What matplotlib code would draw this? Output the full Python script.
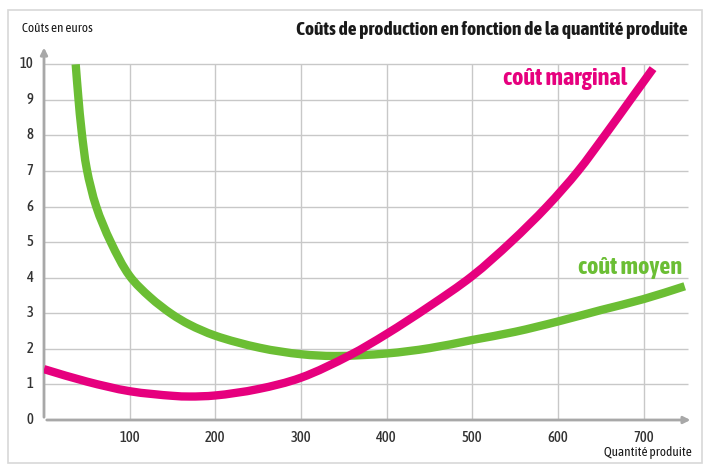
import matplotlib
matplotlib.use("Agg")
import numpy as np
import matplotlib.pyplot as plt
from matplotlib.patches import Rectangle, PathPatch
from matplotlib.path import Path

plt.rcParams["font.family"] = ["Asap Condensed", "Noto Sans", "DejaVu Sans"]

# quantities and costs
x_marginal = [0, 50, 100, 150, 170, 200, 250, 300, 357, 400, 450, 500, 545, 587, 623.5, 654.6, 684.6, 711]
y_marginal = [1.43, 1.08, 0.81, 0.68, 0.66, 0.69, 0.87, 1.19, 1.82, 2.42, 3.2, 4.05, 5.0, 6.0, 7.0, 8.0, 9.0, 9.88]

x_moyen = [37, 40, 44, 50, 61, 78, 100, 124, 149, 170, 200, 252, 300, 340, 400, 450, 500, 550, 600, 650, 700, 748]
y_moyen = [10, 9.1, 8.1, 7.05, 6, 5, 4.05, 3.45, 2.98, 2.68, 2.37, 2.03, 1.85, 1.80, 1.87, 2.02, 2.25, 2.48, 2.77, 3.09, 3.40, 3.76]

x_ticks = [100, 200, 300, 400, 500, 600, 700]
y_ticks = [0, 1, 2, 3, 4, 5, 6, 7, 8, 9, 10]

title = "Coûts de production en fonction de la quantité produite"
ylabel = "Coûts en euros"
xlabel = "Quantité produite"

magenta = "#E6007E"
green = "#6BBE34"
grid_col = "#c8c8c8"
axis_col = "#a8a8a8"


def smooth_path(xs, ys):
    # centripetal catmull-rom through the points (spacing measured on screen), as bezier segments
    scale = np.array([651 / 760, 377 / 10.6])
    q = np.column_stack([xs, ys]).astype(float) * scale
    q = np.vstack([2 * q[0] - q[1], q, 2 * q[-1] - q[-2]])
    t = np.concatenate([[0], np.cumsum(np.linalg.norm(np.diff(q, axis=0), axis=1) ** 0.5)])

    def tangent(j):
        return ((q[j] - q[j - 1]) / (t[j] - t[j - 1])
                - (q[j + 1] - q[j - 1]) / (t[j + 1] - t[j - 1])
                + (q[j + 1] - q[j]) / (t[j + 1] - t[j]))

    verts = [q[1]]
    codes = [Path.MOVETO]
    for i in range(1, len(q) - 2):
        dt = t[i + 1] - t[i]
        verts += [q[i] + tangent(i) * dt / 3, q[i + 1] - tangent(i + 1) * dt / 3, q[i + 1]]
        codes += [Path.CURVE4] * 3
    return Path(np.array(verts) / scale, codes)


fig = plt.figure(figsize=(7.06, 4.65), dpi=100)
fig.patches.append(Rectangle((8 / 706, 2 / 465), 694 / 706, 453 / 465, transform=fig.transFigure,
                             fill=False, edgecolor="#d8d8d8", lw=1.2))

ax = fig.add_axes([44 / 706, 45 / 465, 651 / 706, 377 / 465])
ax.set_xlim(0, 760)
ax.set_ylim(0, 10.6)
for s in ax.spines.values():
    s.set_visible(False)
ax.set_xticks([])
ax.set_yticks([])

# grid
ax.hlines(y_ticks[1:], 0, 752, color=grid_col, lw=1.0, zorder=1)
ax.vlines(x_ticks, 0, 10, color=grid_col, lw=1.0, zorder=1)

# axes with arrows
ax.annotate("", xy=(758, 0), xytext=(0, 0),
            arrowprops=dict(arrowstyle="-|>", color=axis_col, lw=2, mutation_scale=10), annotation_clip=False)
ax.annotate("", xy=(0, 10.55), xytext=(0, 0),
            arrowprops=dict(arrowstyle="-|>", color=axis_col, lw=2, mutation_scale=10), annotation_clip=False)

ax.add_patch(PathPatch(smooth_path(x_moyen, y_moyen), fill=False, edgecolor=green, lw=6,
                       capstyle="butt", zorder=3))
ax.add_patch(PathPatch(smooth_path(x_marginal, y_marginal), fill=False, edgecolor=magenta, lw=6,
                       capstyle="butt", zorder=4))

for t in x_ticks:
    ax.text(t, -0.3, str(t), ha="center", va="top", fontsize=10.5, fontweight="medium", color="#333333")
for t in y_ticks:
    ax.text(-12, t, str(t), ha="right", va="center", fontsize=10.5, fontweight="medium", color="#333333")

ax.text(608, 9.6, "coût marginal", color=magenta, fontsize=17.5, fontweight="bold", ha="center", va="center")
ax.text(684, 4.3, "coût moyen", color=green, fontsize=17.5, fontweight="bold", ha="center", va="center")

fig.text(688 / 706, 1 - 30 / 465, title, ha="right", va="center", fontsize=14, fontweight="bold", color="#1a1a1a")
fig.text(22 / 706, 1 - 28 / 465, ylabel, ha="left", va="center", fontsize=9.5, color="#1a1a1a")
fig.text(692 / 706, 1 - 452 / 465, xlabel, ha="right", va="center", fontsize=9.5, color="#1a1a1a")

fig.savefig("out.png", dpi=100)
